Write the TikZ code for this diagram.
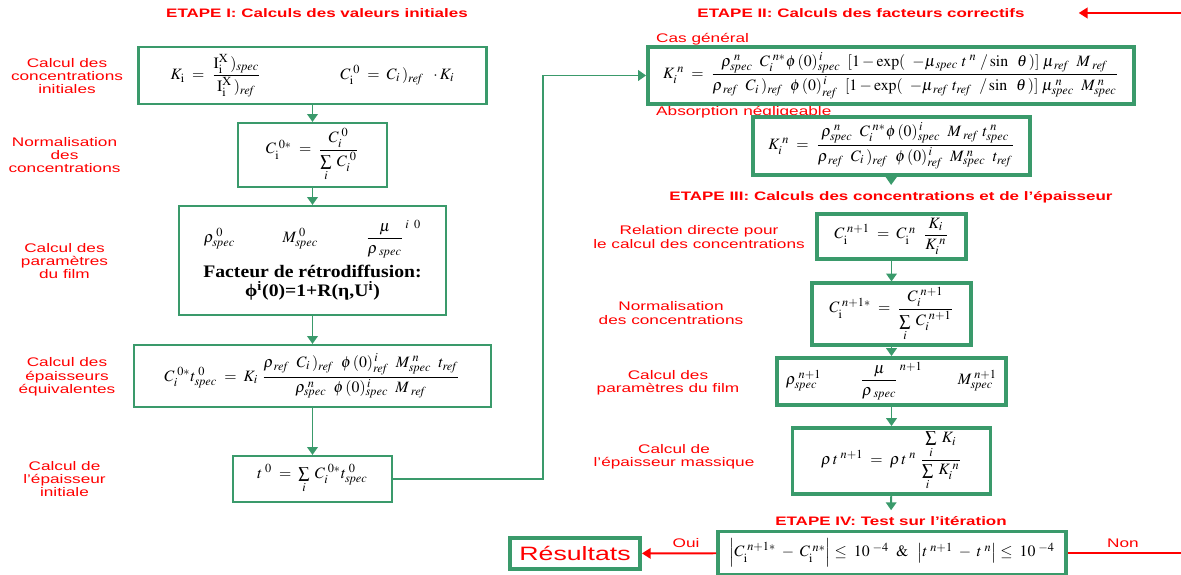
\documentclass[tikz,border=0pt]{standalone}
\usepackage{amsmath}
\usepackage{mathptmx}
\usepackage[no-math]{fontspec}
\setmainfont{Liberation Serif}
\setsansfont{Liberation Sans}
\newfontfamily\labelfont[FakeStretch=1.38]{Liberation Sans}
\newfontfamily\formfont[FakeStretch=1.12]{Liberation Serif}
\usepackage{xcolor}
\definecolor{boxgreen}{HTML}{3A9A6B}
\definecolor{stepred}{HTML}{FF0000}
\usetikzlibrary{arrows.meta,calc}
\newcommand{\spc}{\mathit{spec}}
\newcommand{\rfr}{\mathit{ref}}

\begin{document}
\begin{tikzpicture}[
  font=\labelfont,
  stepbox/.style={
    draw=boxgreen, line width=1.2pt, fill=white,
    inner sep=2pt, align=center,
    font=\fontsize{9}{11}\selectfont,
  },
  thickbox/.style={stepbox, line width=2.2pt},
  steplabel/.style={text=stepred, align=center,
    font=\labelfont\fontsize{7.1}{7.6}\selectfont},
  steptitle/.style={text=stepred,
    font=\labelfont\bfseries\fontsize{7}{8}\selectfont},
  flow/.style={draw=boxgreen, line width=1.1pt,
    -{Triangle[width=6pt,length=4.5pt]}},
  redarrow/.style={draw=stepred, line width=1.1pt,
    -{Triangle[width=6pt,length=5pt]}},
  redline/.style={draw=stepred, line width=1.1pt},
]
\useasboundingbox (0,0) rectangle (23.62,-11.5);

% === ETAPE I: LEFT COLUMN ===
\node[steptitle] (t1) at (6.34,-0.26) {ETAPE I: Calculs des valeurs initiales};

\node[stepbox, minimum width=6.96cm, minimum height=1.14cm] (init) at (6.25,-1.51)
  {$K_{\mathrm{i}}\; = \;\dfrac{\mathrm{I}_{\mathrm{i}}^{\mathrm{X}}\,)_{\spc}}{\mathrm{I}_{\mathrm{i}}^{\mathrm{X}}\,)_{\rfr}}
   \qquad\qquad\quad C_{\mathrm{i}}^{\;0}\; = \;C_i\,)_{\rfr}\;\;\cdot K_i$};
\node[stepbox, minimum width=2.98cm, minimum height=1.28cm] (norm) at (6.25,-3.10)
  {$C_{\mathrm{i}}^{\;0*}\; = \;\dfrac{C_i^{\;0}}{\sum\limits_i\; C_i^{\;0}}$};
\node[stepbox, minimum width=5.34cm, minimum height=2.18cm] (film) at (6.25,-5.21)
  {$\rho^{\;0}_{\spc}\qquad\quad M^{\;0}_{\spc}\qquad\quad {\dfrac{\mu}{\rho_{\;\spc}}}^{\,i\;\;0}$\\[3pt]
   {\formfont\fontsize{10}{11.5}\selectfont\bfseries Facteur de rétrodiffusion:}\\
   {\formfont\fontsize{10}{11.5}\selectfont\bfseries ϕ\textsuperscript{i}(0)=1+R(η,U\textsuperscript{i})}};
\node[stepbox, minimum width=7.14cm, minimum height=1.24cm] (thick) at (6.25,-7.52)
  {$C_i^{\;0*}t^{\;0}_{\spc}\; = \;K_i\;\dfrac{\rho_{\,\rfr}\;\;C_i\,)_{\rfr}\;\;\phi\,(0)^{\,i}_{\rfr}\;\;M^{\;n}_{\spc}\;\;t_{\rfr}}
   {\rho^{\;n}_{\spc}\;\;\phi\,(0)^{\,i}_{\spc}\;\;M_{\;\rfr}}$};
\node[stepbox, minimum width=3.18cm, minimum height=0.92cm] (t0) at (6.25,-9.58)
  {$t^{\;0}\; = \;\sum\limits_i\; C_i^{\;0*}t^{\;0}_{\spc}$};

\node[steplabel] (l_init)  at (1.34,-1.52) {Calcul des\\concentrations\\initiales};
\node[steplabel] (l_norm)  at (1.29,-3.10) {Normalisation\\des\\concentrations};
\node[steplabel] (l_film)  at (1.29,-5.22) {Calcul des\\paramètres\\du film};
\node[steplabel] (l_thick) at (1.34,-7.54) {Calcul des\\épaisseurs\\équivalentes};
\node[steplabel] (l_t0)    at (1.29,-9.58) {Calcul de\\l’épaisseur\\initiale};

\draw[flow] (init) -- (norm);
\draw[flow] (norm) -- (film);
\draw[flow] (film) -- (thick);
\draw[flow] (thick) -- (t0);

% === ETAPE II: CORRECTION FACTORS ===
\node[steptitle] (t2) at (17.22,-0.26) {ETAPE II: Calculs des facteurs correctifs};
\node[steplabel, anchor=west] (casgen) at (13.0,-0.78) {Cas général};
\node[steplabel, anchor=west] (absneg) at (13.0,-2.25) {Absorption négligeable};

\node[thickbox, minimum width=9.72cm, minimum height=1.14cm] (kgen) at (17.82,-1.51)
  {$K_i^{\;n}\; = \;\dfrac{\rho^{\;n}_{\spc}\;\;C_i^{\;n*}\phi\,(0)^{\,i}_{\spc}\;\;[1-\exp(\;\;-\mu_{\,\spc}\;t^{\;n}\;/\sin\;\;\theta\,)]\;\mu_{\,\rfr}\;\;M_{\;\rfr}}
   {\rho_{\,\rfr}\;\;C_i\,)_{\rfr}\;\;\phi\,(0)^{\,i}_{\rfr}\;\;[1-\exp(\;\;-\mu_{\,\rfr}\;t_{\rfr}\;\;/\sin\;\;\theta\,)]\;\mu^{\;n}_{\spc}\;\;M^{\;n}_{\spc}}$};
\node[thickbox, minimum width=5.54cm, minimum height=1.16cm] (kneg) at (17.83,-2.92)
  {$K_i^{\;n}\; = \;\dfrac{\rho^{\;n}_{\spc}\;\;C_i^{\;n*}\phi\,(0)^{\,i}_{\spc}\;\;M_{\;\rfr}\;t^{\;n}_{\spc}}
   {\rho_{\,\rfr}\;\;C_i\,)_{\rfr}\;\;\phi\,(0)^{\,i}_{\rfr}\;\;M^{\;n}_{\spc}\;\;t_{\rfr}}$};

\draw[flow] (t0.east) -- ++(3.0,0) |- (kgen.west);

% === ETAPE III: CONCENTRATIONS AND THICKNESS ===
\node[steptitle] (t3) at (17.82,-3.94) {ETAPE III: Calculs des concentrations et de l’épaisseur};

\node[thickbox, minimum width=2.98cm, minimum height=0.90cm] (r1) at (17.83,-4.73)
  {$C_{\mathrm{i}}^{\;n+1}\; = \;C_{\mathrm{i}}^{\;n}\;\;\dfrac{K_i}{K_i^{\;n}}$};
\node[thickbox, minimum width=3.18cm, minimum height=1.04cm] (r2) at (17.83,-6.28)
  {$C_{\mathrm{i}}^{\;n+1*}\; = \;\dfrac{C_i^{\;n+1}}{\sum\limits_i\; C_i^{\;n+1}}$};
\node[thickbox, minimum width=4.58cm, minimum height=0.94cm] (r3) at (17.83,-7.63)
  {$\rho^{\;n+1}_{\spc}\qquad\;\; {\dfrac{\mu}{\rho_{\;\spc}}}^{\,n+1}\qquad\; M^{\;n+1}_{\spc}$};
\node[thickbox, minimum width=3.96cm, minimum height=1.32cm] (r4) at (17.83,-9.22)
  {$\rho\,t^{\;n+1}\; = \;\rho\,t^{\;n}\;\dfrac{\sum\limits_i\; K_i}{\sum\limits_i\; K_i^{\;n}}$};

\node[steplabel] (l_r1) at (13.98,-4.74) {Relation directe pour\\le calcul des concentrations};
\node[steplabel] (l_r2) at (13.42,-6.26) {Normalisation\\des concentrations};
\node[steplabel] (l_r3) at (13.36,-7.66) {Calcul des\\paramètres du film};
\node[steplabel] (l_r4) at (13.48,-9.14) {Calcul de\\l’épaisseur massique};

\draw[flow] (kneg) -- (t3);
\draw[flow] (r1) -- (r2);
\draw[flow] (r2) -- (r3);
\draw[flow] (r3) -- (r4);

% === ETAPE IV: ITERATION TEST ===
\node[steptitle] (t4) at (17.82,-10.42) {ETAPE IV: Test sur l’itération};
\draw[flow] (r4) -- (t4);

\node[thickbox, minimum width=6.96cm, minimum height=0.86cm] (test) at (17.84,-11.06)
  {$\left|C_{\mathrm{i}}^{\;n+1*}\;-\;C_{\mathrm{i}}^{\;n*}\right|\le\;10^{\;-4}\;\;\&\;\;\left|t^{\;n+1}\;-\;t^{\;n}\right|\le\;10^{\;-4}$};
\node[thickbox, minimum width=2.6cm, minimum height=0.62cm, text=stepred,
  font=\labelfont\fontsize{11}{13}\selectfont] (res) at (11.5,-11.07) {Résultats};

\coordinate (nonend) at (23.62,-11.06);
\coordinate (loopend) at (23.62,-0.26);
\draw[redarrow] (test) -- (res);
\draw[redline] (test.east) -- (nonend);
\draw[redarrow] (loopend) -- ([xshift=0.96cm]t2.east);
\node[steplabel] (oui) at (13.72,-10.86) {Oui};
\node[steplabel] (non) at (22.46,-10.86) {Non};

\end{tikzpicture}
\end{document}
